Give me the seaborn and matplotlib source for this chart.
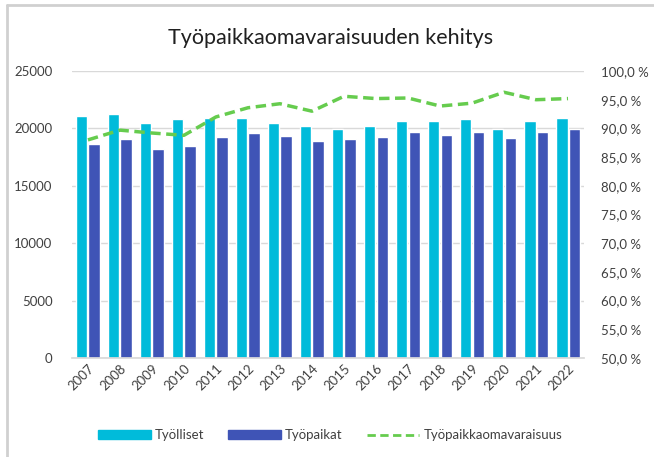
import matplotlib.pyplot as plt
import pandas as pd
import seaborn as sns
from matplotlib.lines import Line2D
from matplotlib.patches import Patch
from matplotlib.ticker import FuncFormatter

years = [str(y) for y in range(2007, 2023)]
tyolliset = [21100, 21250, 20470, 20790, 20930, 20870, 20470, 20230,
             19970, 20230, 20640, 20670, 20790, 19910, 20670, 20870]
tyopaikat = [18600, 19100, 18230, 18460, 19240, 19560, 19330, 18920,
             19100, 19240, 19680, 19450, 19680, 19190, 19710, 19910]
omavaraisuus = [88.0, 89.7, 89.2, 88.8, 92.0, 93.6, 94.3, 93.0,
                95.6, 95.2, 95.3, 93.9, 94.4, 96.3, 95.0, 95.2]

LIGHT = '#00BBDA'
DARK = '#3F54B6'
GREEN = '#66CC4E'
GRID = '#D9D9D9'
TXT = '#404040'

df = pd.DataFrame({'Vuosi': years * 2,
                   'Arvo': tyolliset + tyopaikat,
                   'Sarja': ['Työlliset'] * len(years) + ['Työpaikat'] * len(years)})
line_df = pd.DataFrame({'Vuosi': years, 'Osuus': omavaraisuus})

sns.set_theme(style='white')
plt.rcParams['font.family'] = ['Lato', 'DejaVu Sans']

fig = plt.figure(figsize=(6.54, 4.57), dpi=100)
ax = fig.add_axes([0.110, 0.2166, 0.783, 0.628])

sns.barplot(data=df, x='Vuosi', y='Arvo', hue='Sarja', ax=ax, saturation=1,
            palette=[LIGHT, DARK], width=0.8, gap=0.08, legend=False)
ax.set_ylim(0, 25000)
ax.set_yticks(range(0, 25001, 5000))
ax.set_xlim(-0.5, len(years) - 0.5)
ax.yaxis.grid(True, color=GRID, linewidth=1)
ax.set_axisbelow(True)
for s in ['top', 'right', 'left']:
    ax.spines[s].set_visible(False)
ax.spines['bottom'].set_color(GRID)
ax.set_xlabel('')
ax.set_ylabel('')
ax.tick_params(axis='y', labelsize=9.5, colors=TXT, length=0, pad=14)
ax.tick_params(axis='x', labelsize=9.5, colors=TXT, length=0, pad=3)
plt.setp(ax.get_xticklabels(), rotation=45, ha='right', rotation_mode='anchor')

ax2 = ax.twinx()
sns.lineplot(data=line_df, x='Vuosi', y='Osuus', ax=ax2, color=GREEN,
             linewidth=2.5, linestyle=(0, (3, 1.6)))
ax2.set_ylim(50, 100)
ax2.set_yticks(range(50, 101, 5))
ax2.yaxis.set_major_formatter(FuncFormatter(lambda v, p: f'{v:.1f}'.replace('.', ',') + ' %'))
ax2.set_xlim(-0.5, len(years) - 0.5)
for s in ax2.spines.values():
    s.set_visible(False)
ax2.set_ylabel('')
ax2.tick_params(axis='y', labelsize=9.5, colors=TXT, length=0, pad=12)

fig.text(0.505, 0.917, 'Työpaikkaomavaraisuuden kehitys', ha='center', va='center',
         fontsize=15.5, color='#202020')

handles = [Patch(color=LIGHT), Patch(color=DARK),
           Line2D([], [], color=GREEN, linewidth=2, linestyle=(0, (3, 1.6)))]
fig.legend(handles, ['Työlliset', 'Työpaikat', 'Työpaikkaomavaraisuus'],
           loc='center', bbox_to_anchor=(0.505, 0.048), ncol=3, frameon=False,
           fontsize=9.5, handlelength=4, handleheight=0.6, columnspacing=1.8,
           handletextpad=0.3, labelcolor=TXT)

# chart frame (top and left edges only)
fig.add_artist(Line2D([0.010, 1.0], [0.988, 0.988], transform=fig.transFigure,
                      color='#D0D0D0', linewidth=2))
fig.add_artist(Line2D([0.010, 0.010], [0.0, 0.988], transform=fig.transFigure,
                      color='#D0D0D0', linewidth=2))

fig.savefig('out.png', dpi=100)
